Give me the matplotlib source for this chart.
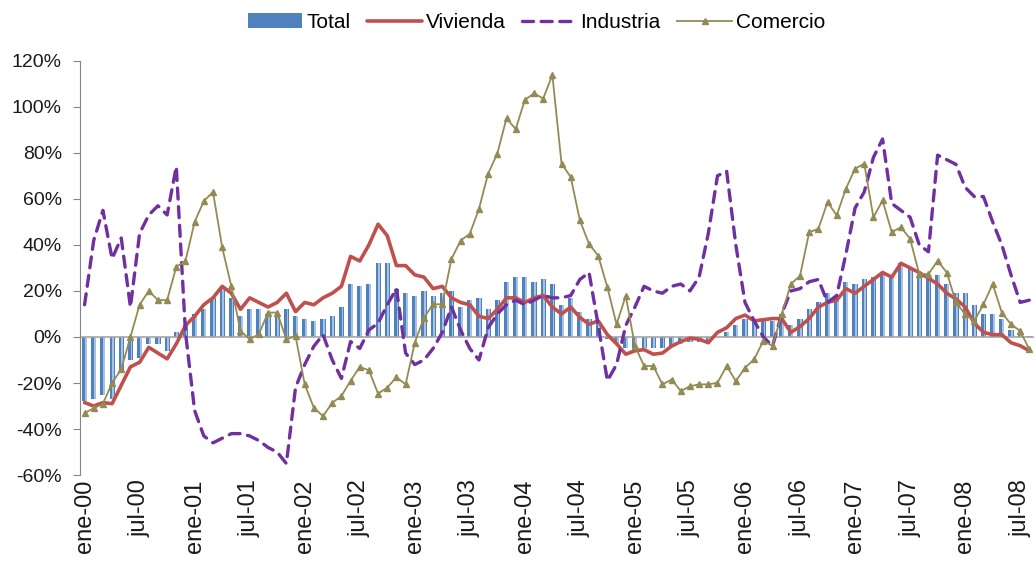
import numpy as np
import matplotlib.pyplot as plt
from matplotlib.ticker import FuncFormatter

plt.rcParams['font.family'] = ['Liberation Sans', 'DejaVu Sans']

# Monthly data, ene-00 .. ago-08 (percent)
tick_labels = ['ene-00', 'jul-00', 'ene-01', 'jul-01', 'ene-02', 'jul-02',
               'ene-03', 'jul-03', 'ene-04', 'jul-04', 'ene-05', 'jul-05',
               'ene-06', 'jul-06', 'ene-07', 'jul-07', 'ene-08', 'jul-08']

total = [-28, -27, -25, -27, -15, -10, -9, -3, -3, -6,
         2, 5, 10, 12, 17, 21, 17, 9, 12, 12,
         10, 10, 12, 9, 8, 7, 8, 9, 13, 23,
         22, 23, 32, 32, 21, 19, 18, 20, 18, 19,
         20, 13, 16, 17, 12, 16, 24, 26, 26, 24,
         25, 23, 14, 17, 11, 8, 6, -1, -3, -5,
         -5, -5, -5, -5, -4, -3, -2, -2, -2, 0,
         2, 5, 8, 7, 7, 7, 10, 5, 8, 12,
         15, 19, 18, 24, 23, 25, 26, 28, 27, 32,
         30, 27, 27, 27, 23, 19, 19, 14, 10, 10,
         8, 3, 2, 0.5]

vivienda = [-28.5, -30, -28.5, -29, -21, -13, -11, -4.5, -7, -9.5,
            -3, 5, 9, 14, 17, 22, 19, 12, 17, 15,
            13, 15, 19, 11, 15, 14, 17, 19, 22, 35,
            33, 40, 49, 44, 31, 31, 27, 26, 21, 22,
            17, 15, 14, 9, 8, 12, 17, 17, 15, 17,
            18, 13, 10, 13, 8.5, 5.5, 7, 1, -3, -7.5,
            -6, -5.5, -7.5, -7, -4, -2, -0.5, -1, -2.5, 2,
            4, 8, 9.5, 7, 7.5, 8, 8, 2, 4.5, 8,
            13, 15, 16, 21, 19, 22, 25, 28, 26, 32,
            30, 28, 25.5, 23, 19, 16.5, 13, 6, 2, 1,
            1, -2.5, -3.8, -6]

industria = [14, 42, 55, 34, 43, 13, 45, 53, 57, 53,
             74, 2, -32, -43, -46, -44, -42, -42, -43, -45,
             -48, -50, -55, -22, -12, -4, 1, -10, -18, -2,
             -5, 3, 6, 14, 21, -7, -12, -10, -5, 2,
             13, 3, -5, -10, 4, 10, 14, 16, 14, 16,
             18, 17, 17, 18, 25, 28, 5, -19, -12, 5,
             13, 22, 20, 19, 22, 23, 20, 26, 45, 70,
             72, 40, 15, 7, 0, -4, 10, 20, 21, 24,
             25, 15, 18, 36, 56, 63, 78, 86, 58, 55,
             52, 40, 37, 79, 77, 75, 65, 61, 61, 50,
             40, 27, 15, 16]

comercio = [-33, -31, -29, -20, -14, 0, 14, 20, 16, 16,
            30.5, 33, 50, 59, 63, 39, 22, 2.6, -1, 1.2,
            10.6, 10.6, -1, 0.4, -20.6, -30.8, -34.4, -28.6, -25.7, -19,
            -13, -14.5, -24.6, -22, -17.5, -20.6, -2.5, 8.4, 14.2, 14.2,
            33.9, 41.9, 44.8, 55.7, 71, 79.7, 95, 90.3, 103, 105.8,
            103.6, 113.8, 75.3, 69.5, 50.6, 40.4, 35.3, 21.5, 5.5, 17.9,
            -3.9, -12.6, -12.6, -20.6, -18.5, -23.5, -21.4, -20.6, -20.6, -19.9,
            -12.6, -19.2, -13.4, -9.7, -1.7, -3.9, 9.9, 23, 26.6, 45.5,
            47, 58.6, 52.8, 64.4, 73.1, 75.3, 52, 59.3, 45.5, 47.7,
            42.6, 27.3, 27.3, 33.1, 28, 15, 9.9, 7, 14.2, 23,
            10.6, 5.5, 2.6, -5.4]

n = len(total)
x = np.arange(n)

fig = plt.figure(figsize=(10.36, 5.71), dpi=100)
ax = fig.add_axes([0.0772, 0.168, 0.9208, 0.7256])

# bars with a lighter stripe, like the excel gradient fill
bars = ax.bar(x, total, width=0.56, color='#4F81BD', label='Total', zorder=2)
ax.bar(x + 0.12, total, width=0.2, color='#A9C2E2', zorder=2.1)
ax.axhline(0, color='#A6A6A6', lw=1.2, zorder=2.5)

l1, = ax.plot(x, vivienda, color='#C0504D', lw=2.6, label='Vivienda', zorder=3,
              solid_joinstyle='round', solid_capstyle='round')
l2, = ax.plot(x, industria, color='#7030A0', lw=2.4, dashes=(3.3, 2.3),
              dash_capstyle='round', label='Industria', zorder=4)
l3, = ax.plot(x, comercio, color='#948A54', lw=1.3, marker='^', markersize=5,
              label='Comercio', zorder=5)

ax.set_xlim(-0.5, n - 0.5)
ax.set_ylim(-60, 120)
ax.set_yticks(range(-60, 121, 20))
ax.yaxis.set_major_formatter(FuncFormatter(lambda v, p: '%d%%' % v))
ax.set_xticks(range(0, n, 6))
ax.set_xticklabels(tick_labels, rotation=90)

for s in ['top', 'right', 'bottom']:
    ax.spines[s].set_visible(False)
ax.spines['left'].set_color('#868686')
ax.tick_params(axis='y', length=5, color='#868686', pad=8, labelsize=14,
               labelcolor='#1a1a1a')
ax.tick_params(axis='x', length=0, pad=3, labelsize=17, labelcolor='#1a1a1a')

fig.legend([bars, l1, l2, l3], ['Total', 'Vivienda', 'Industria', 'Comercio'],
           loc='upper center', bbox_to_anchor=(0.518, 1.01), ncol=4,
           frameon=False, fontsize=15, handlelength=2.6, handletextpad=0.2,
           columnspacing=0.8, numpoints=1)

fig.savefig('out.png', dpi=100)
plt.close(fig)
